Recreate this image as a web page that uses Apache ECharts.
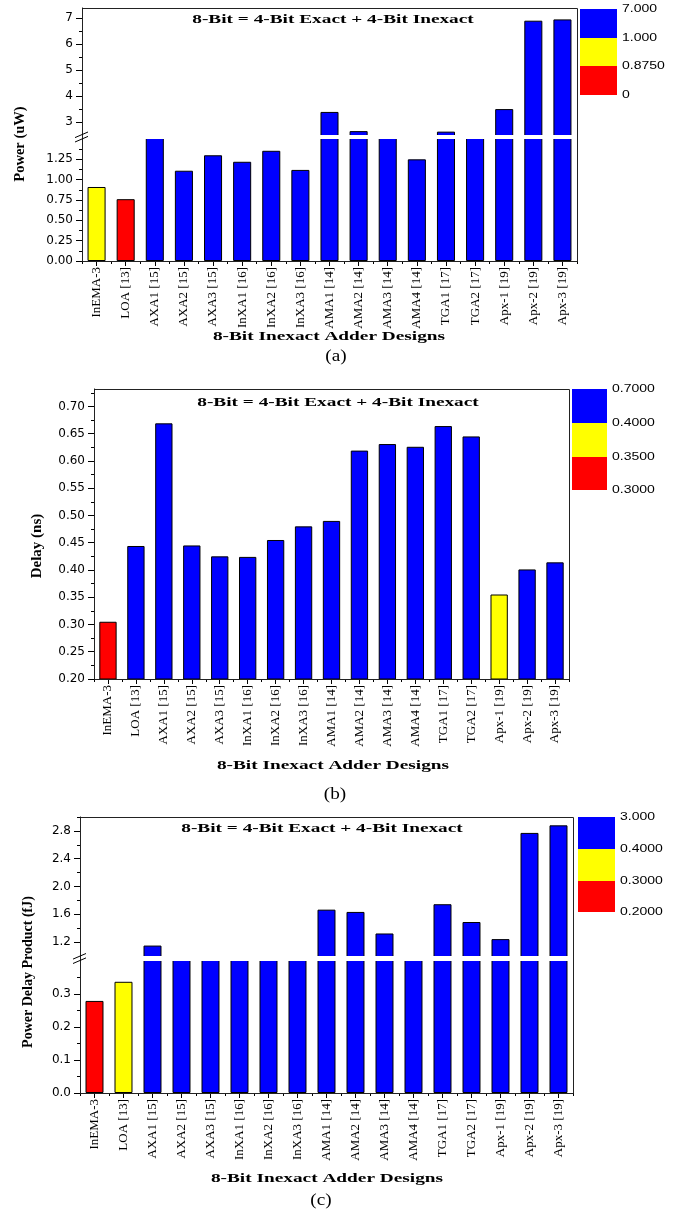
<!DOCTYPE html>
<html>
<head>
<meta charset="utf-8">
<script src="https://cdn.jsdelivr.net/npm/echarts@6.0.0/dist/echarts.min.js"></script>
<style>
  html, body { margin: 0; padding: 0; background: #fff; }
  #chart { width: 674px; height: 1216px; }
</style>
</head>
<body>
<div id="chart"></div>
<script>
// ---- data ----
const designs = ['InEMA-3', 'LOA [13]', 'AXA1 [15]', 'AXA2 [15]', 'AXA3 [15]', 'InXA1 [16]', 'InXA2 [16]',
  'InXA3 [16]', 'AMA1 [14]', 'AMA2 [14]', 'AMA3 [14]', 'AMA4 [14]', 'TGA1 [17]', 'TGA2 [17]',
  'Apx-1 [19]', 'Apx-2 [19]', 'Apx-3 [19]'];

const powerUW = [0.91, 0.76, 1.72, 1.11, 1.30, 1.22, 1.355, 1.12, 3.39, 2.65, 2.10, 1.25, 2.63, 2.31, 3.50, 6.91, 6.96];
const delayNS = [0.305, 0.444, 0.669, 0.445, 0.425, 0.424, 0.455, 0.480, 0.490, 0.619, 0.631, 0.626, 0.664, 0.645, 0.355, 0.401, 0.414];
const pdpFJ = [0.279, 0.337, 1.15, 0.49, 0.55, 0.52, 0.62, 0.54, 1.667, 1.634, 1.324, 0.78, 1.745, 1.489, 1.243, 2.771, 2.880];

// axis tick labels
const powerLowTicks = [0, 0.25, 0.5, 0.75, 1.0, 1.25];
const powerHighTicks = [3, 4, 5, 6, 7];
const delayTicks = [0.20, 0.25, 0.30, 0.35, 0.40, 0.45, 0.50, 0.55, 0.60, 0.65, 0.70];
const pdpLowTicks = [0, 0.1, 0.2, 0.3];
const pdpHighTicks = [1.2, 1.6, 2.0, 2.4, 2.8];

// colour scale boundaries (top to bottom) and their labels
const powerBounds = [7, 1.0, 0.875, 0];
const powerBoundLabels = ['7.000', '1.000', '0.8750', '0'];
const delayBounds = [0.7, 0.4, 0.35, 0.3];
const delayBoundLabels = ['0.7000', '0.4000', '0.3500', '0.3000'];
const pdpBounds = [3, 0.4, 0.3, 0.2];
const pdpBoundLabels = ['3.000', '0.4000', '0.3000', '0.2000'];

const headline = '8-Bit = 4-Bit Exact + 4-Bit Inexact';
const xName = '8-Bit Inexact Adder Designs';

// ---- layout (pixels) ----
const PANEL_A = { left: 82, right: 577, top: 8, bottom: 261, lower: [0, 1.5], upper: [2.5, 7.4], gapTop: 135, gapBottom: 139,
  scale: { x: 580, w: 37, ys: [9, 38, 66, 95] },
  title: [333, 20], yName: [20, 144, 14.5], xName: [329, 337], caption: [336, 357], captionText: '(a)' };
const PANEL_B = { left: 94, right: 569, top: 389, bottom: 679, range: [0.2, 0.732],
  scale: { x: 572, w: 35, ys: [389, 423, 457, 490] },
  title: [338, 403], yName: [37, 546, 15], xName: [333, 766], caption: [335, 795], captionText: '(b)' };
const PANEL_C = { left: 80, right: 573, top: 817, bottom: 1093, lower: [0, 0.4], upper: [1.0, 3.0], gapTop: 956, gapBottom: 961,
  scale: { x: 578, w: 37, ys: [817, 849, 881, 912] },
  title: [322, 829], yName: [28, 972, 14], xName: [327, 1179], caption: [321, 1201], captionText: '(c)' };

const BLUE = '#0000FF', YELLOW = '#FFFF00', RED = '#FF0000';
const SERIF = 'Liberation Serif';
const SANS = 'Liberation Sans';

function colorOf(v, bounds) {
  if (v >= bounds[1]) return BLUE;
  if (v >= bounds[2]) return YELLOW;
  return RED;
}

function minorsOf(majors, lo, hi) {
  const step = majors[1] - majors[0];
  const out = [];
  [majors[0] - step].concat(majors).forEach(function (v) {
    const m = +(v + step / 2).toFixed(6);
    if (m > lo + 1e-9 && m <= hi + 1e-9) out.push(m);
  });
  return out;
}

const grids = [], xAxes = [], yAxes = [], series = [], graphics = [];

function addCartesian(g, o) {
  const gi = grids.length;
  grids.push({ left: g.left, top: g.top, width: g.right - g.left, height: g.height,
    containLabel: false, outerBoundsMode: 'none', show: false });
  const xi = xAxes.length;
  if (o.showX) {
    xAxes.push({ type: 'category', gridIndex: gi, data: designs, position: 'bottom',
      axisLine: { show: true, onZero: false, lineStyle: { color: '#000', width: 1 } },
      axisTick: { show: true, alignWithLabel: true, interval: 0, length: 5, lineStyle: { color: '#000' } },
      axisLabel: { show: true, interval: 0, rotate: 90, margin: 6, color: '#000', fontFamily: SERIF, fontSize: 13 },
      splitLine: { show: false } });
    xAxes.push({ type: 'category', gridIndex: gi, data: designs, position: 'bottom',
      axisLine: { show: false, onZero: false },
      axisTick: { show: true, alignWithLabel: false, interval: 0, length: 3, lineStyle: { color: '#000' } },
      axisLabel: { show: false }, splitLine: { show: false } });
  } else {
    xAxes.push({ type: 'category', gridIndex: gi, data: designs, show: false, axisLine: { onZero: false } });
  }
  const yi = yAxes.length;
  yAxes.push({ type: 'value', gridIndex: gi, position: 'left', min: o.min, max: o.max,
    axisLine: { show: true, lineStyle: { color: '#000', width: 1 } },
    axisTick: { show: true, length: 6, customValues: o.majors, lineStyle: { color: '#000' } },
    axisLabel: { show: true, customValues: o.majors, formatter: o.fmt, margin: 9, color: '#000',
      fontFamily: 'DejaVu Sans', fontSize: 12 },
    splitLine: { show: false } });
  yAxes.push({ type: 'value', gridIndex: gi, position: 'left', min: o.min, max: o.max,
    axisLine: { show: false },
    axisTick: { show: true, length: 3, customValues: o.minors, lineStyle: { color: '#000' } },
    axisLabel: { show: false }, splitLine: { show: false } });
  series.push({ type: 'bar', xAxisIndex: xi, yAxisIndex: yi, data: o.values, barWidth: '62%',
    clip: true, animation: false,
    itemStyle: { color: function (p) { return colorOf(p.value, o.bounds); }, borderColor: '#000', borderWidth: 1 } });
}

function text(x, y, str, family, size, weight, extra) {
  const el = { type: 'text', x: x, y: y, z: 120, silent: true,
    style: { text: str, fontFamily: family, fontSize: size, fontWeight: weight, fill: '#000',
      align: 'center', verticalAlign: 'middle' } };
  return Object.assign(el, extra || {});
}

function decorate(P, bounds, boundLabels, yNameText) {
  // frame
  graphics.push({ type: 'rect', z: 110, silent: true,
    shape: { x: P.left + 0.5, y: P.top + 0.5, width: P.right - P.left, height: P.bottom - P.top },
    style: { fill: 'none', stroke: '#222', lineWidth: 1 } });
  // colour scale
  const cols = [BLUE, YELLOW, RED];
  for (let i = 0; i < 3; i++) {
    graphics.push({ type: 'rect', z: 110, silent: true,
      shape: { x: P.scale.x, y: P.scale.ys[i], width: P.scale.w, height: P.scale.ys[i + 1] - P.scale.ys[i] },
      style: { fill: cols[i] } });
  }
  boundLabels.forEach(function (lab, i) {
    const t = text(P.scale.x + P.scale.w + 5, P.scale.ys[i], lab, SANS, 10, 'normal', { scaleX: 1.4 });
    t.style.align = 'left';
    graphics.push(t);
  });
  // headline, axis names, caption
  graphics.push(text(P.title[0], P.title[1], headline, SERIF, 13.5, 'bold', { scaleX: 1.43 }));
  graphics.push(text(P.xName[0], P.xName[1], xName, SERIF, 13.5, 'bold', { scaleX: 1.43 }));
  graphics.push(text(P.yName[0], P.yName[1], yNameText, SERIF, P.yName[2], 'bold', { rotation: Math.PI / 2 }));
  graphics.push(text(P.caption[0], P.caption[1], P.captionText, SERIF, 16, 'normal', { scaleX: 1.2 }));
}

function addBrokenPanel(P, d) {
  // grids stop one pixel inside the break band so clipped bar edges stay hidden under it
  const inner = P.gapBottom - P.gapTop - 1;
  const lowPx = (P.bottom - P.gapBottom) / (P.lower[1] - P.lower[0]);
  const upPx = (P.gapTop - P.top) / (P.upper[1] - P.upper[0]);
  // upper segment of the broken axis
  addCartesian({ left: P.left, right: P.right, top: P.top, height: P.gapBottom - 1 - P.top }, {
    showX: false, min: P.upper[0] - inner / upPx, max: P.upper[1],
    majors: d.highTicks, minors: minorsOf(d.highTicks, P.upper[0], P.upper[1]), fmt: d.highFmt,
    values: d.values, bounds: d.bounds });
  // lower segment
  addCartesian({ left: P.left, right: P.right, top: P.gapTop + 1, height: P.bottom - P.gapTop - 1 }, {
    showX: true, min: P.lower[0], max: P.lower[1] + inner / lowPx,
    majors: d.lowTicks, minors: minorsOf(d.lowTicks, P.lower[0], P.lower[1]), fmt: d.lowFmt,
    values: d.values, bounds: d.bounds });
  // white break band across the bars
  graphics.push({ type: 'rect', z: 100, silent: true,
    shape: { x: P.left + 1, y: P.gapTop, width: P.right - P.left - 1.5, height: P.gapBottom - P.gapTop },
    style: { fill: '#fff' } });
  // break marks on the axis
  const m = (P.gapTop + P.gapBottom) / 2;
  [-2.2, 2.2].forEach(function (dy) {
    graphics.push({ type: 'line', z: 115, silent: true,
      shape: { x1: P.left - 7, y1: m + dy + 2.8, x2: P.left + 6, y2: m + dy - 2.8 },
      style: { stroke: '#000', lineWidth: 1 } });
  });
  decorate(P, d.bounds, d.boundLabels, d.yName);
}

addBrokenPanel(PANEL_A, {
  values: powerUW, bounds: powerBounds, boundLabels: powerBoundLabels, yName: 'Power (uW)',
  lowTicks: powerLowTicks, highTicks: powerHighTicks,
  lowFmt: function (v) { return v.toFixed(2); }, highFmt: function (v) { return v.toFixed(0); }
});

addCartesian({ left: PANEL_B.left, right: PANEL_B.right, top: PANEL_B.top, height: PANEL_B.bottom - PANEL_B.top }, {
  showX: true, min: PANEL_B.range[0], max: PANEL_B.range[1],
  majors: delayTicks, minors: minorsOf(delayTicks, PANEL_B.range[0], PANEL_B.range[1]),
  fmt: function (v) { return v.toFixed(2); }, values: delayNS, bounds: delayBounds });
decorate(PANEL_B, delayBounds, delayBoundLabels, 'Delay (ns)');

addBrokenPanel(PANEL_C, {
  values: pdpFJ, bounds: pdpBounds, boundLabels: pdpBoundLabels, yName: 'Power Delay Product (fJ)',
  lowTicks: pdpLowTicks, highTicks: pdpHighTicks,
  lowFmt: function (v) { return v.toFixed(1); }, highFmt: function (v) { return v.toFixed(1); }
});

const chart = echarts.init(document.getElementById('chart'), null, { renderer: 'canvas' });
chart.setOption({
  backgroundColor: '#fff',
  animation: false,
  grid: grids,
  xAxis: xAxes,
  yAxis: yAxes,
  series: series,
  graphic: { elements: graphics }
});
</script>
</body>
</html>
